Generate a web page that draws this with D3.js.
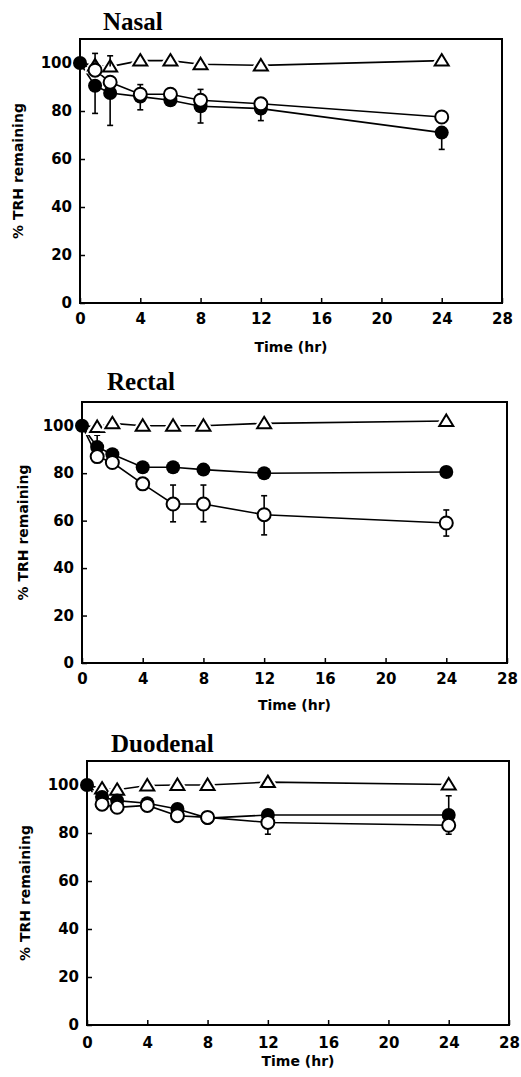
<!DOCTYPE html>
<html>
<head>
<meta charset="utf-8">
<script src="https://cdn.jsdelivr.net/npm/d3@7"></script>
<style>
  body { margin: 0; background: #fff; }
  .tick text { font-family: "DejaVu Sans", sans-serif; font-weight: bold; font-size: 15px; fill: #000; }
  .tick line { stroke: #000; stroke-width: 1.5px; }
  .title { font-family: "Liberation Serif", serif; font-weight: bold; font-size: 25px; }
  .label { font-family: "DejaVu Sans", sans-serif; font-weight: bold; font-size: 14px; }
</style>
</head>
<body>
<svg class="chart" width="521" height="1077"></svg>
<script>
// time points (hr) and axis ticks
var times = [0, 1, 2, 4, 6, 8, 12, 24];
var xTicks = [0, 4, 8, 12, 16, 20, 24, 28];
var yTicks = [0, 20, 40, 60, 80, 100];

// % TRH remaining
var nasalTriangle = [100, 99, 98.5, 101, 101, 99.5, 99, 101];
var nasalOpen     = [100, 97, 92, 87, 87, 84.5, 83, 77.5];
var nasalFilled   = [100, 90.5, 87.5, 86, 84.5, 82, 81, 71];

var rectalTriangle = [100, 99.5, 101, 100, 100, 100, 101, 102];
var rectalOpen     = [100, 87, 84.5, 75.5, 67, 67, 62.5, 59];
var rectalFilled   = [100, 91, 88, 82.5, 82.5, 81.5, 80, 80.5];

var duodenalTriangle = [100, 98.5, 98, 99.8, 100, 100, 101.2, 100.2];
var duodenalOpen     = [100, 92, 90.7, 91.5, 87.2, 86.5, 84.4, 83.2];
var duodenalFilled   = [100, 95, 93.5, 92.4, 90, 86.2, 87.5, 87.5];

// error bars: [time, end value of the bar]
var nasalTriangleErr = [[1, 104], [2, 103]];
var nasalOpenErr     = [[4, 91], [8, 89]];
var nasalFilledErr   = [[1, 79], [2, 74], [4, 80.5], [8, 75], [12, 76], [24, 64]];

var rectalTriangleErr = [];
var rectalOpenErr     = [[6, 75], [6, 59.5], [8, 75], [8, 59.5], [12, 70.5], [12, 54], [24, 64.5], [24, 53.5]];
var rectalFilledErr   = [[1, 96]];

var duodenalTriangleErr = [];
var duodenalOpenErr     = [[12, 79.5], [24, 79.5]];
var duodenalFilledErr   = [[24, 95.5]];

var panels = [
  { title: "Nasal", tri: nasalTriangle, open: nasalOpen, filled: nasalFilled,
    triErr: nasalTriangleErr, openErr: nasalOpenErr, filledErr: nasalFilledErr,
    left: 80, right: 502, top: 39, bottom: 303, titleX: 103, titleY: 30, tickPad: 10, xlabY: 352, ylabX: 18 },
  { title: "Rectal", tri: rectalTriangle, open: rectalOpen, filled: rectalFilled,
    triErr: rectalTriangleErr, openErr: rectalOpenErr, filledErr: rectalFilledErr,
    left: 82, right: 507, top: 402, bottom: 663, titleX: 107, titleY: 390, tickPad: 10, xlabY: 710, ylabX: 23 },
  { title: "Duodenal", tri: duodenalTriangle, open: duodenalOpen, filled: duodenalFilled,
    triErr: duodenalTriangleErr, openErr: duodenalOpenErr, filledErr: duodenalFilledErr,
    left: 87, right: 509, top: 761, bottom: 1025, titleX: 111, titleY: 752, tickPad: 12, xlabY: 1066, ylabX: 25 }
];

var svg = d3.select(".chart");
var triPath = "M0,-6.5L7,5L-7,5Z";

panels.forEach(function(p) {
  var width = p.right - p.left,
      height = p.bottom - p.top;

  var x = d3.scaleLinear().domain([0, 28]).range([0, width]);
  var y = d3.scaleLinear().domain([0, 110]).range([height, 0]);

  var g = svg.append("g").attr("transform", "translate(" + p.left + "," + p.top + ")");

  // axes, ticks pointing inside
  var xAxis = g.append("g")
    .attr("transform", "translate(0," + height + ")")
    .call(d3.axisBottom(x).tickValues(xTicks).tickSizeInner(-5).tickSizeOuter(0).tickPadding(p.tickPad));
  xAxis.select(".domain").remove();

  var yAxis = g.append("g")
    .call(d3.axisLeft(y).tickValues(yTicks).tickSizeInner(-5).tickSizeOuter(0).tickPadding(8));
  yAxis.select(".domain").remove();

  // frame
  g.append("rect")
    .attr("width", width).attr("height", height)
    .attr("fill", "none").attr("stroke", "#000").attr("stroke-width", 2);

  svg.append("text").attr("class", "title")
    .attr("x", p.titleX).attr("y", p.titleY).text(p.title);

  svg.append("text").attr("class", "label")
    .attr("x", p.left + width / 2).attr("y", p.xlabY)
    .attr("text-anchor", "middle").text("Time (hr)");

  svg.append("text").attr("class", "label")
    .attr("transform", "translate(" + p.ylabX + "," + (p.top + height / 2) + ") rotate(-90)")
    .attr("dy", "0.35em")
    .attr("text-anchor", "middle").text("% TRH remaining");

  var line = d3.line()
    .x(function(d, i) { return x(times[i]); })
    .y(function(d) { return y(d); });

  function valueAt(series, t) { return series[times.indexOf(t)]; }

  // error bars with a small cap
  function errBars(list, series) {
    var eb = g.append("g").selectAll("g").data(list).enter().append("g");
    eb.append("line")
      .attr("x1", function(d) { return x(d[0]); })
      .attr("x2", function(d) { return x(d[0]); })
      .attr("y1", function(d) { return y(valueAt(series, d[0])); })
      .attr("y2", function(d) { return y(d[1]); })
      .attr("stroke", "#000").attr("stroke-width", 1.6);
    eb.append("line")
      .attr("x1", function(d) { return x(d[0]) - 3; })
      .attr("x2", function(d) { return x(d[0]) + 3; })
      .attr("y1", function(d) { return y(d[1]); })
      .attr("y2", function(d) { return y(d[1]); })
      .attr("stroke", "#000").attr("stroke-width", 1.6);
  }

  errBars(p.openErr, p.open);
  errBars(p.filledErr, p.filled);

  [p.tri, p.open, p.filled].forEach(function(s) {
    g.append("path").datum(s)
      .attr("d", line)
      .attr("fill", "none").attr("stroke", "#000").attr("stroke-width", 1.6);
  });

  // triangles (white halo so the line breaks near the marker)
  var tri = g.append("g").selectAll("g").data(p.tri.slice(1)).enter()
    .append("g")
    .attr("transform", function(d, i) { return "translate(" + x(times[i + 1]) + "," + y(d) + ")"; });
  tri.append("path").attr("d", triPath).attr("fill", "#fff").attr("stroke", "#fff").attr("stroke-width", 6);
  tri.append("path").attr("d", triPath).attr("fill", "#fff").attr("stroke", "#000").attr("stroke-width", 2);

  // triangle error bars run through the marker
  errBars(p.triErr, p.tri);

  // filled circles
  g.append("g").selectAll("circle").data(p.filled).enter().append("circle")
    .attr("cx", function(d, i) { return x(times[i]); })
    .attr("cy", function(d) { return y(d); })
    .attr("r", 7).attr("fill", "#000");

  // open circles on top (the one at t=0 is hidden behind the filled one)
  g.append("g").selectAll("circle").data(p.open.slice(1)).enter().append("circle")
    .attr("cx", function(d, i) { return x(times[i + 1]); })
    .attr("cy", function(d) { return y(d); })
    .attr("r", 6.5).attr("fill", "#fff").attr("stroke", "#000").attr("stroke-width", 2);
});
</script>
</body>
</html>
